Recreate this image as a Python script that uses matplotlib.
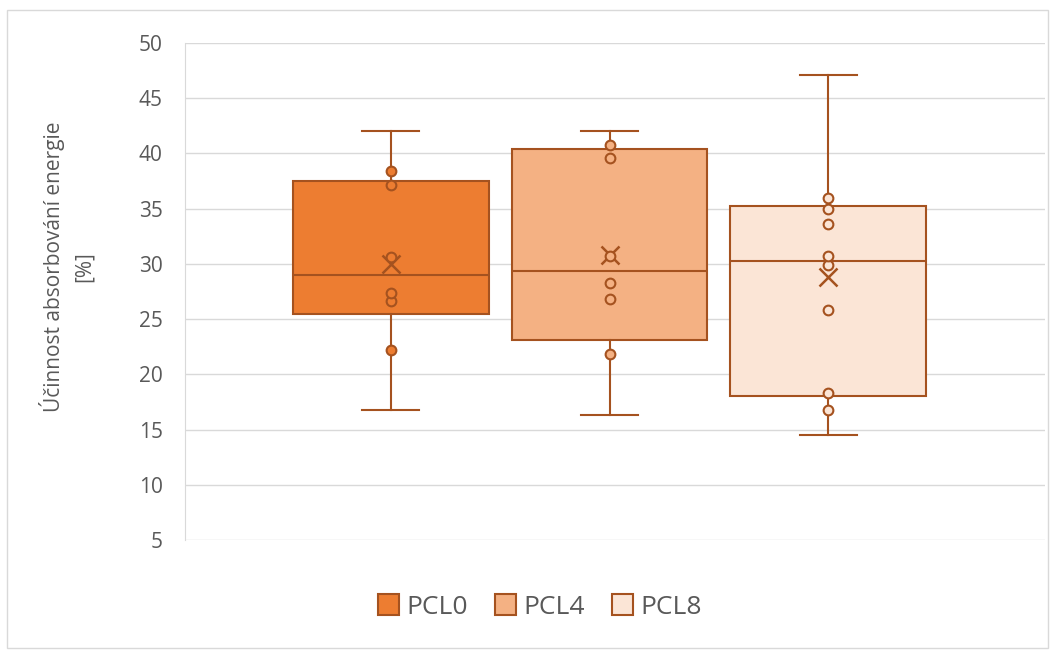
import matplotlib
matplotlib.use("Agg")
import numpy as np
import matplotlib.pyplot as plt
from matplotlib.patches import Patch, Rectangle

# data
groups = ["PCL0", "PCL4", "PCL8"]
whis_low = [16.8, 16.3, 14.5]
q1 = [25.5, 23.1, 18.0]
medians = [29.0, 29.4, 30.3]
q3 = [37.5, 40.4, 35.2]
whis_high = [42.0, 42.0, 47.1]
means = [30.0, 30.8, 28.8]
points_pcl0 = [22.2, 26.6, 27.4, 30.6, 37.1, 38.4]
points_pcl4 = [21.8, 26.8, 28.3, 30.7, 39.6, 40.8]
points_pcl8 = [16.8, 18.3, 25.8, 29.9, 30.7, 33.6, 35.0, 36.0]
points = [points_pcl0, points_pcl4, points_pcl8]

fills = ["#ED7D31", "#F4B183", "#FBE5D6"]
edge = "#A5521F"
text_col = "#595959"

plt.rcParams["font.family"] = ["Open Sans", "DejaVu Sans"]

fig = plt.figure(figsize=(10.54, 6.5), dpi=100)
fig.patches.append(Rectangle((7 / 1054, 2 / 650), 1041 / 1054, 638 / 650,
                             transform=fig.transFigure, fill=False,
                             edgecolor="#d9d9d9", linewidth=1))

ax = fig.add_axes([185 / 1054, 110 / 650, 860 / 1054, 497 / 650])

stats = []
for i in range(3):
    stats.append(dict(med=medians[i], q1=q1[i], q3=q3[i],
                      whislo=whis_low[i], whishi=whis_high[i],
                      mean=means[i], fliers=[], label=groups[i]))

pos = [1, 2, 3]
bp = ax.bxp(stats, positions=pos, widths=0.895, patch_artist=True,
            showmeans=True, capwidths=0.26,
            boxprops=dict(edgecolor=edge, linewidth=1.5),
            medianprops=dict(color=edge, linewidth=1.5),
            whiskerprops=dict(color=edge, linewidth=1.5),
            capprops=dict(color=edge, linewidth=1.5),
            meanprops=dict(marker="x", markeredgecolor=edge, markersize=13,
                           markeredgewidth=1.8))
for box, c in zip(bp["boxes"], fills):
    box.set_facecolor(c)
    box.set_zorder(2)

for i in range(3):
    ax.plot([pos[i]] * len(points[i]), points[i], linestyle="none", marker="o",
            markersize=7, markerfacecolor=fills[i], markeredgecolor=edge,
            markeredgewidth=1.5, zorder=4)

ax.set_xlim(0.06, 3.99)
ax.set_ylim(5, 50)
ax.set_yticks(np.arange(5, 51, 5))
ax.set_xticks([])
ax.grid(axis="y", color="#d9d9d9", linewidth=1)
ax.set_axisbelow(True)
for s in ["top", "right", "bottom"]:
    ax.spines[s].set_visible(False)
ax.spines["left"].set_color("#d9d9d9")
ax.tick_params(axis="y", length=0, pad=16, labelsize=15, labelcolor=text_col)

ax.set_ylabel("Účinnost absorbování energie\n[%]", fontsize=15, color=text_col,
              linespacing=1.5, labelpad=32)
ax.yaxis.label.set_y(0.55)

handles = [Patch(facecolor=c, edgecolor=edge, linewidth=1.5) for c in fills]
fig.legend(handles, groups, loc="center", bbox_to_anchor=(540 / 1054, 43 / 650),
           ncol=3, frameon=False, fontsize=19, labelcolor=text_col,
           handlelength=0.8, handleheight=0.8, handletextpad=0.3, columnspacing=1.0)

fig.savefig("out.png", dpi=100)
